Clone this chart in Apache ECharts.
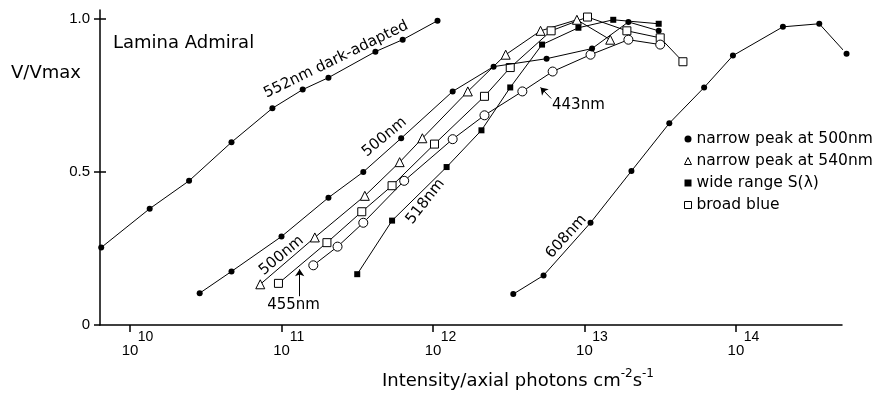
<!DOCTYPE html>
<html>
<head>
<meta charset="utf-8">
<script src="https://cdn.jsdelivr.net/npm/echarts@6/dist/echarts.min.js"></script>
<style>
  html, body { margin: 0; padding: 0; background: #fff; }
  #chart { width: 879px; height: 395px; }
</style>
</head>
<body>
<div id="chart"></div>
<script>
// x values are log10(intensity / photons cm-2 s-1), y values are V/Vmax

// 552nm dark-adapted (filled circles)
var dark552X = [9.81, 10.13, 10.39, 10.67, 10.94, 11.14, 11.31, 11.62, 11.80, 12.03];
var dark552Y = [0.253, 0.380, 0.471, 0.597, 0.708, 0.769, 0.808, 0.893, 0.932, 0.994];

// 500nm, narrow peak at 500nm (filled circles)
var peak500X = [10.46, 10.67, 11.00, 11.31, 11.54, 11.79, 12.13, 12.40, 12.75, 13.05, 13.29, 13.49];
var peak500Y = [0.104, 0.175, 0.289, 0.416, 0.500, 0.610, 0.763, 0.844, 0.870, 0.903, 0.990, 0.961];

// 608nm (filled circles)
var red608X = [12.53, 12.73, 13.04, 13.31, 13.56, 13.79, 13.98, 14.31, 14.55, 14.73];
var red608Y = [0.101, 0.162, 0.334, 0.503, 0.659, 0.776, 0.880, 0.974, 0.984, 0.886];

// narrow peak at 540nm (open triangles)
var peak540X = [10.86, 11.22, 11.55, 11.78, 11.93, 12.23, 12.48, 12.71, 12.95, 13.17];
var peak540Y = [0.133, 0.286, 0.422, 0.532, 0.610, 0.763, 0.883, 0.961, 0.997, 0.932];

// 518nm, wide range S(lambda) (filled squares)
var wide518X = [11.50, 11.73, 12.09, 12.32, 12.51, 12.72, 12.96, 13.19, 13.49];
var wide518Y = [0.166, 0.341, 0.516, 0.636, 0.776, 0.916, 0.971, 0.997, 0.984];

// 455nm, broad blue (open squares)
var blue455X = [10.98, 11.30, 11.53, 11.73, 12.01, 12.34, 12.51, 12.78, 13.02, 13.28, 13.50, 13.65];
var blue455Y = [0.136, 0.269, 0.370, 0.455, 0.591, 0.747, 0.841, 0.961, 1.006, 0.961, 0.938, 0.860];

// 443nm (open circles)
var blue443X = [11.21, 11.37, 11.54, 11.81, 12.13, 12.34, 12.59, 12.79, 13.04, 13.29, 13.50];
var blue443Y = [0.195, 0.256, 0.334, 0.471, 0.607, 0.685, 0.763, 0.828, 0.883, 0.932, 0.916];

var xExponents = [10, 11, 12, 13, 14];
var yTicks = [0, 0.5, 1];
var yTickLabels = ['0', '0.5', '1.0'];

var legendNames = ['narrow peak at 500nm', 'narrow peak at 540nm', 'wide range S(\u03bb)', 'broad blue'];
var legendIcons = ['circle', 'triangle', 'rect', 'rect'];
var legendOpen = [false, true, false, true];

// curve labels drawn next to the lines
var noteTexts = ['552nm dark-adapted', '500nm', '500nm', '455nm', '518nm', '443nm', '608nm'];
var noteX = [11.36, 11.68, 11.00, 11.08, 11.95, 12.96, 12.88];
var noteY = [0.867, 0.614, 0.227, 0.065, 0.403, 0.718, 0.289];
var noteAngles = [26, 40, 40, 0, 52, 0, 48];

// arrows pointing from a label to its curve
var arrowFrom = [[11.12, 0.094], [12.78, 0.740]];
var arrowTo = [[11.12, 0.182], [12.71, 0.776]];

var wordFont = 'DejaVu Sans';
var numFont = 'Liberation Sans';

function curve(name, xs, ys, symbol, size, open) {
    var data = [];
    for (var i = 0; i < xs.length; i++) {
        data.push([xs[i], ys[i]]);
    }
    return {
        name: name,
        type: 'line',
        data: data,
        symbol: symbol,
        symbolSize: size,
        showAllSymbol: true,
        clip: false,
        z: open ? 3 : 4,
        lineStyle: { color: '#000', width: 1 },
        itemStyle: open ? { color: '#fff', borderColor: '#000', borderWidth: 1 } : { color: '#000', borderWidth: 0 },
        emphasis: { disabled: true }
    };
}

var notes = [];
for (var i = 0; i < noteTexts.length; i++) {
    notes.push({ name: noteTexts[i], value: [noteX[i], noteY[i]], label: { rotate: noteAngles[i] } });
}
var arrows = [];
for (var j = 0; j < arrowFrom.length; j++) {
    arrows.push([{ coord: arrowFrom[j] }, { coord: arrowTo[j] }]);
}

var legendData = [];
for (var k = 0; k < legendNames.length; k++) {
    legendData.push({
        name: legendNames[k],
        icon: legendIcons[k],
        itemStyle: legendOpen[k] ? { color: '#fff', borderColor: '#000', borderWidth: 1 } : { color: '#000', borderWidth: 0 }
    });
}

var yAxisBase = {
    type: 'value',
    min: 0,
    max: 1.029,
    position: 'left',
    splitLine: { show: false }
};

var option = {
    animation: false,
    backgroundColor: '#fff',
    title: [{
        text: 'Lamina Admiral', left: 113, top: 34, padding: 0,
        textStyle: { fontFamily: wordFont, fontSize: 18, fontWeight: 'normal', color: '#000' }
    }, {
        text: 'V/Vmax', left: 11, top: 64, padding: 0,
        textStyle: { fontFamily: wordFont, fontSize: 18, fontWeight: 'normal', color: '#000' }
    }],
    legend: {
        orient: 'vertical',
        left: 684,
        top: 131,
        padding: 0,
        itemGap: 6,
        itemWidth: 7,
        itemHeight: 7,
        textStyle: { fontFamily: wordFont, fontSize: 15.5, lineHeight: 16, color: '#000' },
        data: legendData
    },
    grid: { left: 100, right: 37, top: 10, bottom: 68 },
    xAxis: {
        type: 'value',
        min: 9.802,
        max: 14.70,
        name: 'Intensity/axial photons cm{sup|-2}s{sup|-1}',
        nameLocation: 'middle',
        nameGap: 43,
        nameTextStyle: {
            fontFamily: wordFont, fontSize: 18, color: '#000', padding: [0, 0, 0, 94],
            rich: { sup: { fontFamily: wordFont, fontSize: 12, color: '#000', padding: [0, 0, 14, 0] } }
        },
        splitLine: { show: false },
        axisLine: { lineStyle: { color: '#000', width: 1.5 } },
        axisTick: { customValues: xExponents, length: 7, lineStyle: { color: '#000', width: 1.5 } },
        axisLabel: {
            customValues: xExponents,
            margin: 6,
            formatter: function (v) {
                return '{sup|' + v + '}\n{base|10}';
            },
            rich: {
                sup: { fontFamily: numFont, fontSize: 14, lineHeight: 12, color: '#000', padding: [0, 0, 0, 31] },
                base: { fontFamily: numFont, fontSize: 15, lineHeight: 16, color: '#000' }
            }
        }
    },
    yAxis: [
        Object.assign({}, yAxisBase, {
            axisLine: { show: true, lineStyle: { color: '#000', width: 1.5 } },
            axisTick: { show: true, customValues: yTicks, length: 6, lineStyle: { color: '#000', width: 1.5 } },
            axisLabel: {
                customValues: yTicks,
                margin: 10,
                fontFamily: numFont,
                fontSize: 15,
                color: '#000',
                formatter: function (v) {
                    return yTickLabels[yTicks.indexOf(v)];
                }
            }
        }),
        Object.assign({}, yAxisBase, {
            axisLine: { show: false },
            axisTick: { show: true, inside: true, customValues: [0.5, 1], length: 6, lineStyle: { color: '#000', width: 1.5 } },
            axisLabel: { show: false }
        })
    ],
    series: [
        curve('552nm dark-adapted', dark552X, dark552Y, 'circle', 6, false),
        curve('narrow peak at 500nm', peak500X, peak500Y, 'circle', 6, false),
        curve('608nm', red608X, red608Y, 'circle', 6, false),
        curve('narrow peak at 540nm', peak540X, peak540Y, 'triangle', 9, true),
        curve('wide range S(\u03bb)', wide518X, wide518Y, 'rect', 6, false),
        curve('broad blue', blue455X, blue455Y, 'rect', 8, true),
        curve('443nm', blue443X, blue443Y, 'circle', 9, true),
        {
            name: 'notes',
            type: 'scatter',
            data: notes,
            symbolSize: 1,
            silent: true,
            z: 6,
            itemStyle: { color: '#fff', opacity: 1 },
            label: {
                show: true,
                position: 'inside',
                formatter: '{b}',
                fontFamily: wordFont,
                fontSize: 15,
                color: '#000',
                opacity: 1,
                textBorderWidth: 0
            },
            markLine: {
                silent: true,
                symbol: ['none', 'arrow'],
                symbolSize: 7,
                label: { show: false },
                lineStyle: { color: '#000', width: 1, type: 'solid', opacity: 1 },
                data: arrows
            }
        }
    ]
};

var chart = echarts.init(document.getElementById('chart'));
chart.setOption(option);
</script>
</body>
</html>
